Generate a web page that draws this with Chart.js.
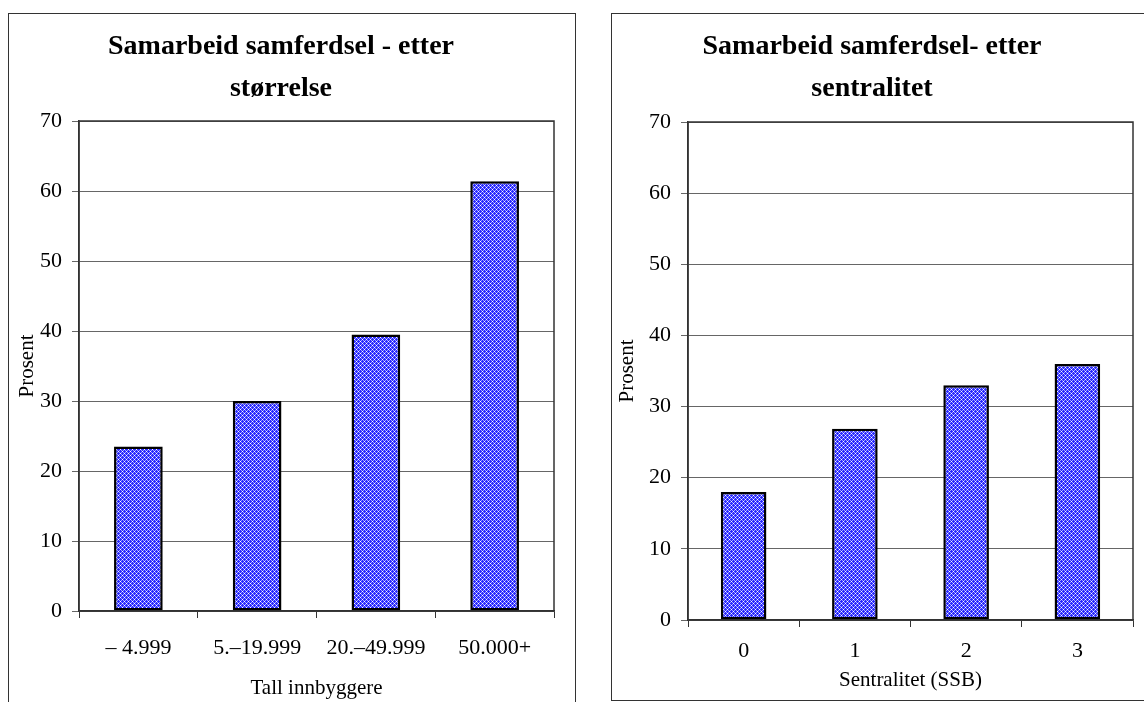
<!DOCTYPE html>
<html>
<head>
<meta charset="utf-8">
<script src="https://cdn.jsdelivr.net/npm/chart.js@4.4.1/dist/chart.umd.min.js"></script>
<style>
  html, body { margin: 0; padding: 0; background: #fff; overflow: hidden; }
  body { width: 1144px; height: 702px; position: relative; }
  .box { position: absolute; border: 1.5px solid #333; box-sizing: border-box; }
  #boxLeft { left: 8px; top: 13px; width: 568px; height: 720px; }
  #boxRight { left: 611px; top: 13px; width: 560px; height: 688px; }
  canvas { position: absolute; }
  #chartLeft { left: 8px; top: 13px; }
  #chartRight { left: 611px; top: 13px; }
</style>
</head>
<body>
<div class="box" id="boxLeft"></div>
<div class="box" id="boxRight"></div>
<canvas id="chartLeft"></canvas>
<canvas id="chartRight"></canvas>
<script>
// data
const sizeLabels = ["\u2013 4.999", "5.\u201319.999", "20.\u201349.999", "50.000+"];
const sizeValues = [23.5, 30.0, 39.5, 61.4];
const centralLabels = ["0", "1", "2", "3"];
const centralValues = [18.0, 26.9, 33.0, 36.0];
const yTicks = [0, 10, 20, 30, 40, 50, 60, 70];

const serif = "'Liberation Serif', 'Times New Roman', serif";

// Excel-like blue lattice fill
const makePattern = () => {
  const c = document.createElement("canvas");
  c.width = 4;
  c.height = 4;
  const g = c.getContext("2d");
  for (let y = 0; y < 4; y++) {
    for (let x = 0; x < 4; x++) {
      const a = (x + y) % 4 === 0;
      const b = (x - y + 4) % 4 === 0;
      g.fillStyle = a && b ? "#ffffff" : a || b ? "#a0a0ff" : "#2a2aff";
      g.fillRect(x, y, 1, 1);
    }
  }
  return g.createPattern(c, "repeat");
};

// frame around the plot area
const plotFrame = {
  id: "plotFrame",
  afterDraw(chart) {
    const { ctx, chartArea: a } = chart;
    ctx.save();
    ctx.strokeStyle = "#333";
    ctx.lineWidth = 1.5;
    ctx.strokeRect(a.left, a.top, a.right - a.left, a.bottom - a.top);
    ctx.restore();
  },
};

const buildChart = (id, cfg) => {
  const canvas = document.getElementById(id);
  canvas.width = cfg.w;
  canvas.height = cfg.h;
  canvas.style.width = cfg.w + "px";
  canvas.style.height = cfg.h + "px";
  const ctx = canvas.getContext("2d");
  return new Chart(ctx, {
    type: "bar",
    data: {
      labels: cfg.labels,
      datasets: [
        {
          data: cfg.values,
          backgroundColor: makePattern(),
          borderColor: "#000",
          borderWidth: 2.5,
          borderSkipped: false,
          categoryPercentage: 1,
          barPercentage: 0.41,
        },
      ],
    },
    options: {
      responsive: false,
      animation: false,
      devicePixelRatio: 1,
      layout: { padding: cfg.pad },
      plugins: {
        legend: { display: false },
        tooltip: { enabled: false },
        title: {
          display: true,
          text: cfg.title,
          color: "#000",
          font: { family: serif, size: 28, weight: "bold", lineHeight: 1.5 },
          padding: { top: 0, bottom: cfg.titleGap },
        },
      },
      scales: {
        x: {
          afterFit: (axis) => {
            axis.height = cfg.xHeight;
          },
          grid: {
            offset: true,
            drawOnChartArea: false,
            drawTicks: true,
            tickLength: 7,
            color: "#333",
          },
          border: { color: "#333", width: 1.5 },
          ticks: {
            color: "#000",
            font: { family: serif, size: 22 },
            padding: cfg.xTickPad,
            maxRotation: 0,
          },
          title: {
            display: true,
            text: cfg.xTitle,
            color: "#000",
            font: { family: serif, size: 21 },
            padding: { top: 0, bottom: 0 },
          },
        },
        y: {
          min: 0,
          max: 70,
          afterBuildTicks: (axis) => {
            axis.ticks = yTicks.map((v) => ({ value: v }));
          },
          afterFit: (axis) => {
            axis.width = cfg.yWidth;
          },
          grid: { color: "#666", lineWidth: 1, tickLength: 7 },
          border: { color: "#333", width: 1.5 },
          ticks: {
            color: "#000",
            font: { family: serif, size: 22 },
            padding: 10,
          },
          title: {
            display: true,
            text: "Prosent",
            color: "#000",
            font: { family: serif, size: 21 },
            padding: { top: cfg.yTitlePad, bottom: 0 },
          },
        },
      },
    },
    plugins: [plotFrame],
  });
};

buildChart("chartLeft", {
  w: 567,
  h: 718,
  labels: sizeLabels,
  values: sizeValues,
  title: ["Samarbeid samferdsel - etter", "st\u00f8rrelse"],
  xTitle: "Tall innbyggere",
  pad: { left: 0, right: 21, top: 13, bottom: 30 },
  titleGap: 11,
  xHeight: 90,
  xTickPad: 17,
  yWidth: 71,
  yTitlePad: 7,
});

buildChart("chartRight", {
  w: 558,
  h: 686,
  labels: centralLabels,
  values: centralValues,
  title: ["Samarbeid samferdsel- etter", "sentralitet"],
  xTitle: "Sentralitet (SSB)",
  pad: { left: 0, right: 36, top: 13, bottom: 6 },
  titleGap: 12,
  xHeight: 73,
  xTickPad: 11,
  yWidth: 77,
  yTitlePad: 4,
});
</script>
</body>
</html>
